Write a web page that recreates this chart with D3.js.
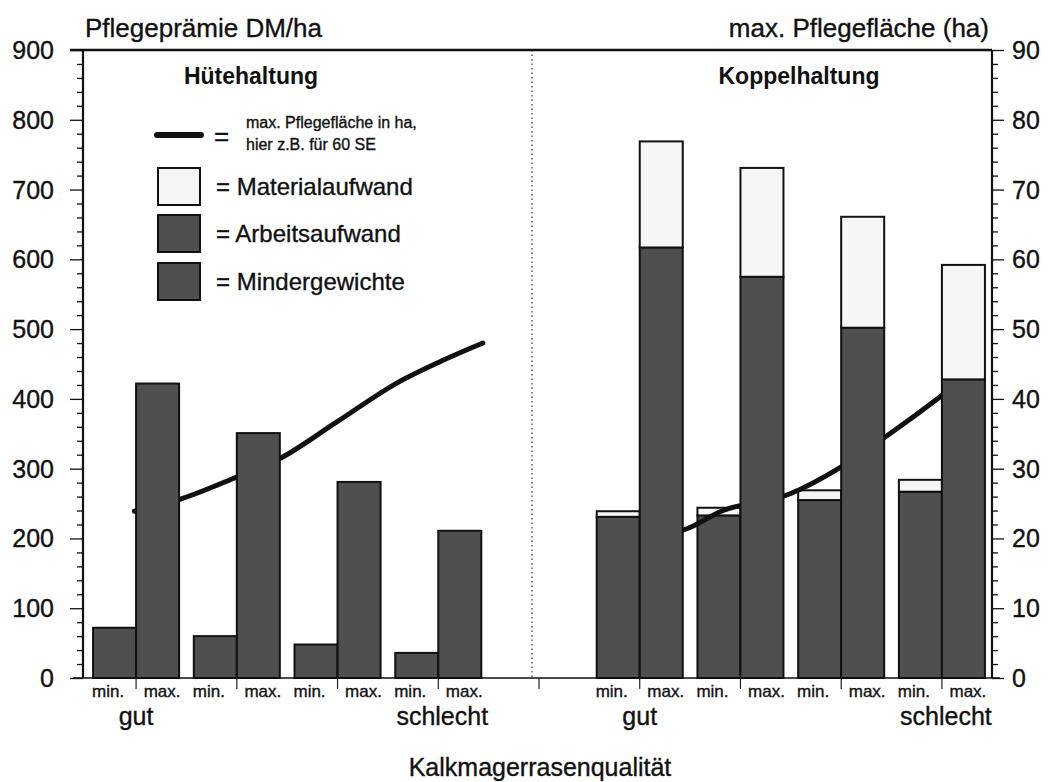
<!DOCTYPE html>
<html><head><meta charset="utf-8">
<script src="https://cdn.jsdelivr.net/npm/d3@7"></script>
<style>
body{margin:0;background:#fff}
svg{display:block}
text{font-family:"Liberation Sans",Arial,Helvetica,sans-serif;fill:#111}
text.reg{stroke:#111;stroke-width:0.35px}
</style>
</head><body>
<svg id="chart" width="1051" height="782"></svg>
<script>
// ---------------- data ----------------
const leftTicks = [0,100,200,300,400,500,600,700,800,900];
const rightTicks = [0,10,20,30,40,50,60,70,80,90];
const slots = ["H1","H2","H3","H4","sep","K1","K2","K3","K4"];
const levels = ["min.","max."];
const huteSlots = ["H1","H2","H3","H4"];
const koppelSlots = ["K1","K2","K3","K4"];
// Hütehaltung (DM/ha)
const huteArbeitMin = [72,60,48,36];
const huteArbeitMax = [422,351,281,211];
// Koppelhaltung (DM/ha)
const koppelArbeitMin = [231,233,255,267];
const koppelMaterialMin = [8,11,14,17];
const koppelArbeitMax = [617,575,502,428];
const koppelMaterialMax = [152,156,159,164];
// max. Pflegefläche (ha) curve, position in slot units
const huteCurvePos = [0.41,0.84,1.41,1.86,2.42,3.02,3.44,3.87];
const huteCurveHa  = [23.9,25.5,28.7,31.5,36.7,42.3,45.3,48.0];
const koppelCurvePos = [5.45,5.93,6.22,6.92,7.42,7.91,8.41,8.78];
const koppelCurveHa  = [19.8,21.6,23.8,26.4,30.2,35.0,40.3,44.5];
const qualityLabels = ["gut","schlecht"];
const legendLabels = ["= Materialaufwand","= Arbeitsaufwand","= Mindergewichte"];

// ---------------- setup ----------------
const svg = d3.select("#chart");
const plotTop = 50, plotBottom = 678, axL = 83, axR = 992;
const y = d3.scaleLinear().domain([0,900]).range([plotBottom, plotTop]);
const y2 = d3.scaleLinear().domain([0,90]).range([plotBottom, plotTop]);
const x = d3.scaleBand().domain(slots).range([83,995]).paddingInner(0.146).paddingOuter(0.1);
const xi = d3.scaleBand().domain(levels).range([0, x.bandwidth()]);
const xc = d3.scaleLinear().domain([0, slots.length]).range([x(slots[0]), x(slots[0]) + x.step()*slots.length]);

const DARK = "#4f4f4f", LIGHT = "#f6f6f6";

// rows
const rows = [];
huteSlots.forEach((s,i)=>{
  rows.push({slot:s, level:"min.", arbeit:huteArbeitMin[i], material:0});
  rows.push({slot:s, level:"max.", arbeit:huteArbeitMax[i], material:0});
});
koppelSlots.forEach((s,i)=>{
  rows.push({slot:s, level:"min.", arbeit:koppelArbeitMin[i], material:koppelMaterialMin[i]});
  rows.push({slot:s, level:"max.", arbeit:koppelArbeitMax[i], material:koppelMaterialMax[i]});
});
const stack = d3.stack().keys(["arbeit","material"])(rows);
const colors = {arbeit:DARK, material:LIGHT};

// divider
const sepX = x("sep") + x.bandwidth()/2 - 7;
svg.append("line").attr("x1",sepX).attr("x2",sepX).attr("y1",plotTop).attr("y2",plotBottom)
  .attr("stroke","#333").attr("stroke-width",1.2).attr("stroke-dasharray","1.5,3");

function drawBars(level){
  stack.forEach(layer=>{
    svg.append("g").selectAll("rect")
      .data(layer.filter(d=>d.data.level===level && d[1]-d[0]>0)).join("rect")
      .attr("x", d=>x(d.data.slot)+xi(d.data.level))
      .attr("width", xi.bandwidth())
      .attr("y", d=>y(d[1]))
      .attr("height", d=>y(d[0])-y(d[1]))
      .attr("fill", colors[layer.key])
      .attr("stroke","#111").attr("stroke-width",2);
  });
}

// min bars, then curves, then max bars
drawBars("min.");
const line = d3.line().x(d=>xc(d[0])).y(d=>y2(d[1])).curve(d3.curveMonotoneX);
[[huteCurvePos,huteCurveHa,"round"],[koppelCurvePos,koppelCurveHa,"butt"]].forEach(([p,h,cap])=>{
  svg.append("path").attr("d", line(p.map((v,i)=>[v,h[i]])))
    .attr("fill","none").attr("stroke","#111").attr("stroke-width",5).attr("stroke-linecap",cap);
});
drawBars("max.");

// ---------------- axes ----------------
const gL = svg.append("g").attr("transform",`translate(${axL},0)`);
gL.call(d3.axisLeft(y).tickValues(d3.range(0,901,20)).tickSize(6).tickFormat(""));
gL.call(g=>g.selectAll(".tick line").filter(d=>d%100===0).attr("x2",-13));
gL.select(".domain").remove();
gL.selectAll(".tick line").attr("stroke","#111").attr("stroke-width",1.3);
svg.append("g").selectAll("text").data(leftTicks).join("text").attr("class","reg")
  .attr("x",54).attr("y",d=>y(d)).attr("dy","0.36em").attr("text-anchor","end")
  .style("font-size","25px").text(d=>d);

const gR = svg.append("g").attr("transform",`translate(${axR},0)`);
gR.call(d3.axisRight(y2).tickValues(d3.range(0,91,2)).tickSize(6).tickFormat(""));
gR.call(g=>g.selectAll(".tick line").filter(d=>d%10===0).attr("x2",12));
gR.select(".domain").remove();
gR.selectAll(".tick line").attr("stroke","#111").attr("stroke-width",1.3);
svg.append("g").selectAll("text").data(rightTicks).join("text").attr("class","reg")
  .attr("x",1012).attr("y",d=>y2(d)).attr("dy","0.36em").attr("text-anchor","start")
  .style("font-size","25px").text(d=>d);

// frame lines
svg.append("line").attr("x1",axL).attr("x2",axL).attr("y1",plotTop).attr("y2",plotBottom).attr("stroke","#111").attr("stroke-width",2.2);
svg.append("line").attr("x1",axR).attr("x2",axR).attr("y1",plotTop).attr("y2",plotBottom).attr("stroke","#111").attr("stroke-width",2.2);
svg.append("line").attr("x1",70).attr("x2",axR).attr("y1",plotTop).attr("y2",plotTop).attr("stroke","#111").attr("stroke-width",2.6);
svg.append("line").attr("x1",axL-10).attr("x2",axR+8).attr("y1",plotBottom).attr("y2",plotBottom).attr("stroke","#111").attr("stroke-width",1.6);

// x ticks
const pairSlots = huteSlots.concat(koppelSlots);
svg.append("g").selectAll("line").data(pairSlots).join("line")
  .attr("x1",d=>x(d)+xi("max.")).attr("x2",d=>x(d)+xi("max."))
  .attr("y1",plotBottom).attr("y2",plotBottom+11).attr("stroke","#222").attr("stroke-width",1.2);
svg.append("line").attr("x1",x("sep")+x.bandwidth()/2).attr("x2",x("sep")+x.bandwidth()/2)
  .attr("y1",plotBottom).attr("y2",plotBottom+11).attr("stroke","#222").attr("stroke-width",1.2);

// x labels
const lvlOff = {"min.":-28, "max.":26};
pairSlots.forEach(s=>{
  levels.forEach(l=>{
    svg.append("text").attr("class","reg").attr("x", x(s)+xi("max.")+lvlOff[l]).attr("y",697)
      .attr("text-anchor","middle").style("font-size","17px").text(l);
  });
});
[["H1",0],["H4",1],["K1",0],["K4",1]].forEach(([s,k])=>{
  svg.append("text").attr("class","reg").attr("x", x(s)+xi("max.")+(k===1?4:0)).attr("y",725)
    .attr("text-anchor","middle").style("font-size","25px").text(qualityLabels[k]);
});
svg.append("text").attr("class","reg").attr("x",540).attr("y",776).attr("text-anchor","middle")
  .style("font-size","25px").text("Kalkmagerrasenqualität");

// titles
svg.append("text").attr("class","reg").attr("x",85).attr("y",37).style("font-size","26px").text("Pflegeprämie DM/ha");
svg.append("text").attr("class","reg").attr("x",989).attr("y",37).attr("text-anchor","end").style("font-size","26px").text("max. Pflegefläche (ha)");
svg.append("text").attr("x",251).attr("y",84).attr("text-anchor","middle").style("font-size","23px").style("font-weight","bold").text("Hütehaltung");
svg.append("text").attr("x",799).attr("y",84).attr("text-anchor","middle").style("font-size","23px").style("font-weight","bold").text("Koppelhaltung");

// ---------------- legend ----------------
const lg = svg.append("g");
lg.append("line").attr("x1",157).attr("x2",201).attr("y1",135).attr("y2",135)
  .attr("stroke","#111").attr("stroke-width",6).attr("stroke-linecap","round");
lg.append("text").attr("class","reg").attr("x",214).attr("y",145).style("font-size","26px").text("=");
lg.append("text").attr("class","reg").attr("x",246).attr("y",128).style("font-size","16px").text("max. Pflegefläche in ha,");
lg.append("text").attr("class","reg").attr("x",246).attr("y",150).style("font-size","16px").text("hier z.B. für 60 SE");
const legendFills = [LIGHT, DARK, DARK];
const boxY = [168,215,263];
legendLabels.forEach((t,i)=>{
  lg.append("rect").attr("x",158).attr("y",boxY[i]).attr("width",42).attr("height",37)
    .attr("fill",legendFills[i]).attr("stroke","#111").attr("stroke-width",2);
  lg.append("text").attr("class","reg").attr("x",216).attr("y",boxY[i]+27).style("font-size","24px").text(t);
});
</script>
</body></html>
